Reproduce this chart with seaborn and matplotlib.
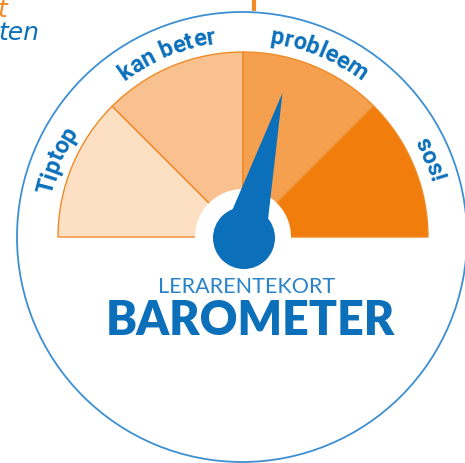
import numpy as np
import seaborn as sns
import matplotlib.pyplot as plt
from matplotlib.patches import Wedge, Circle, Polygon
from matplotlib import font_manager
from matplotlib.ft2font import FT2Font

# Gauge data
categories = ['Tiptop', 'kan beter', 'probleem', 'sos!']
values = [1, 1, 1, 1]
colors = ['#fde0c4', '#f9c18f', '#f5a04f', '#f07d0c']
needle_value = 2.33
title_small = 'LERARENTEKORT'
title_big = 'BAROMETER'

blue = '#0b6fba'
line_blue = '#3c8fd2'
orange = '#ef8a25'

sns.set_style('white')

W, H = 465, 463
fig = plt.figure(figsize=(W / 100, H / 100), dpi=100)
ax = fig.add_axes([0, 0, 1, 1])
ax.set_xlim(0, W)
ax.set_ylim(0, H)
ax.set_aspect('equal')
ax.axis('off')


def P(x, y):
    # pixel coords (y down) -> data coords (y up)
    return x, H - y


cx, cy = P(243, 237)

# outer circle
ax.add_patch(Circle(P(242, 237), 225, fill=False, ec=line_blue, lw=1.3))

# orange line at top
ax.plot([254, 254], [H, H - 11], color=orange, lw=3, solid_capstyle='butt')

# partial script text in top-left corner
ax.text(-3, H - 10, 't', color=orange, fontsize=18, style='italic',
        ha='left', va='center', family='DejaVu Sans')
ax.text(-2, H - 33, 'ten', color=blue, fontsize=18, style='italic',
        ha='left', va='center', family='DejaVu Sans', fontweight='light')

# sectors
total = sum(values)
R = 185
start = 180.0
for cat, v, c in zip(categories, values, colors):
    span = 180.0 * v / total
    ax.add_patch(Wedge((cx, cy), R, start - span, start, fc=c, ec=orange, lw=1))
    start -= span

# curved labels
fp = font_manager.FontProperties(family='Roboto', weight='bold')
font_path = font_manager.findfont(fp)
label_size = 17
ft = FT2Font(font_path)
ft.set_size(label_size, 100)


def adv(ch):
    g = ft.load_char(ord(ch))
    return g.linearHoriAdvance / 65536.0 + 0.3


r_text = 202
start = 180.0
for cat, v in zip(categories, values):
    span = 180.0 * v / total
    mid = start - span / 2
    widths = [adv(ch) for ch in cat]
    Wt = sum(widths)
    pos = -Wt / 2
    for ch, w in zip(cat, widths):
        off = pos + w / 2
        ang = mid - np.degrees(off / r_text)
        a = np.radians(ang)
        ax.text(cx + r_text * np.cos(a), cy + r_text * np.sin(a), ch,
                rotation=ang - 90, rotation_mode='anchor', ha='center', va='center',
                fontproperties=fp, fontsize=label_size, color=blue)
        pos += w
    start -= span

# hub background
ax.add_patch(Circle((cx, cy), 48, fc='white', ec='none', zorder=3))

# needle
ang = np.radians(180.0 - 180.0 * needle_value / total)
L = 150
d = np.array([np.cos(ang), np.sin(ang)])
n = np.array([-d[1], d[0]])
hub = np.array([cx + 1, cy - 1])
tip = hub + L * d
pts = [hub + 22 * n, tip, hub - 22 * n]
ax.add_patch(Polygon(pts, closed=True, fc=blue, ec='none', zorder=4))
ax.add_patch(Circle(hub, 31, fc=blue, ec='none', zorder=5))

# titles
ax.text(*P(247, 287), title_small, ha='center', va='center', color='#2a82c8',
        fontsize=15.5, family='Lato', fontweight='normal')
ax.text(*P(250, 321), title_big, ha='center', va='center', color=blue,
        fontsize=33.5, family='Lato', fontweight='heavy')

fig.savefig('out.png', dpi=100)
